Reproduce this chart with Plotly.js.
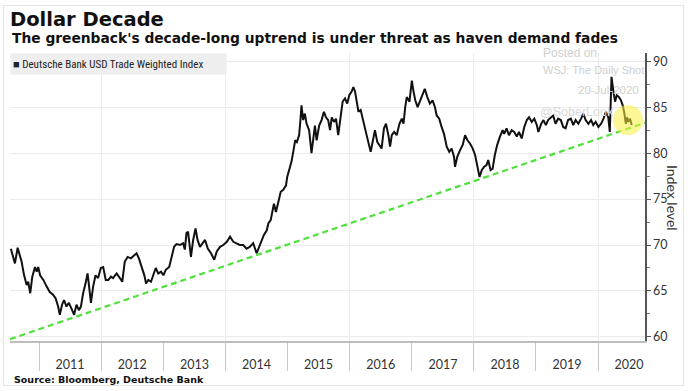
<!DOCTYPE html>
<html><head><meta charset="utf-8">
<script src="https://cdn.plot.ly/plotly-3.0.1.min.js"></script>
<style>
html,body{margin:0;padding:0;background:#fff}
#chart{width:693px;height:391px}
#frame{position:absolute;left:3px;top:5px;width:679px;height:379px;border:1px solid #e4e4e4;pointer-events:none}
</style>
</head><body><div id="chart"></div><div id="frame"></div>
<script>
const chartTitle = 'Dollar Decade';
const chartSubtitle = "The greenback's decade-long uptrend is under threat as haven demand fades";
const sourceText = 'Source: Bloomberg, Deutsche Bank';
const seriesName = 'Deutsche Bank USD Trade Weighted Index';
const yAxisTitle = 'Index level';
const watermark = ['Posted on', 'WSJ: The Daily Shot', '20-Jul-2020', '@SoberLook'];

const dates = [
'2010-07-19','2010-08-01','2010-08-12','2010-08-28','2010-09-10','2010-09-20','2010-10-05','2010-10-20','2010-10-29','2010-11-10','2010-11-22','2010-12-08','2010-12-18','2010-12-27',
'2011-01-07','2011-01-26','2011-02-14','2011-03-04','2011-03-24','2011-04-08','2011-04-23','2011-05-03','2011-05-16','2011-05-28','2011-06-11','2011-06-25','2011-07-10','2011-07-26','2011-08-09','2011-08-23','2011-09-04','2011-09-17','2011-10-01','2011-10-13','2011-10-21','2011-11-02','2011-11-15','2011-11-29','2011-12-14','2011-12-30',
'2012-01-13','2012-01-28','2012-02-12','2012-02-28','2012-03-11','2012-04-01','2012-04-20','2012-05-04','2012-05-19','2012-06-05','2012-06-24','2012-07-13','2012-07-27','2012-08-10','2012-08-26','2012-09-11','2012-09-21','2012-10-04','2012-10-20','2012-11-03','2012-11-17','2012-12-02','2012-12-18',
'2013-01-01','2013-01-15','2013-02-04','2013-02-19','2013-03-05','2013-03-19','2013-04-08','2013-04-27','2013-05-07','2013-05-17','2013-05-26','2013-06-12','2013-06-25','2013-07-09','2013-07-21','2013-08-04','2013-08-18','2013-09-03','2013-09-19','2013-10-08','2013-10-27','2013-11-11','2013-11-30','2013-12-19',
'2014-01-09','2014-01-28','2014-02-16','2014-03-07','2014-03-26','2014-04-15','2014-05-05','2014-05-24','2014-06-13','2014-07-03','2014-07-18','2014-08-02','2014-08-15','2014-09-01','2014-09-10','2014-09-24','2014-10-05','2014-10-13','2014-10-25','2014-11-08','2014-11-22','2014-12-07','2014-12-23','2014-12-30',
'2015-01-12','2015-01-24','2015-02-05','2015-02-15','2015-02-25','2015-03-10','2015-03-18','2015-03-24','2015-04-03','2015-04-13','2015-04-23','2015-05-08','2015-05-22','2015-06-01','2015-06-11','2015-06-21','2015-07-06','2015-07-20','2015-08-03','2015-08-15','2015-08-28','2015-09-08','2015-09-18','2015-10-01','2015-10-13','2015-10-26','2015-11-10','2015-11-21','2015-12-05','2015-12-18','2015-12-30',
'2016-01-13','2016-01-23','2016-02-02','2016-02-12','2016-02-22','2016-03-06','2016-03-17','2016-03-31','2016-04-10','2016-04-20','2016-05-04','2016-05-19','2016-05-29','2016-06-12','2016-06-28','2016-07-07','2016-07-21','2016-08-02','2016-08-16','2016-08-26','2016-09-05','2016-09-19','2016-10-04','2016-10-20','2016-11-03','2016-11-13','2016-11-23','2016-12-02','2016-12-18',
'2017-01-01','2017-01-11','2017-01-21','2017-02-04','2017-02-19','2017-03-05','2017-03-18','2017-04-02','2017-04-17','2017-05-03','2017-05-17','2017-05-27','2017-06-11','2017-06-25','2017-07-09','2017-07-25','2017-08-09','2017-08-23','2017-09-06','2017-09-12','2017-09-25','2017-10-11','2017-10-27','2017-11-10','2017-11-24','2017-12-09','2017-12-25',
'2018-01-08','2018-01-18','2018-02-03','2018-02-16','2018-03-01','2018-03-16','2018-03-26','2018-04-09','2018-04-21','2018-05-04','2018-05-18','2018-06-03','2018-06-19','2018-06-28','2018-07-12','2018-07-26','2018-08-11','2018-08-26','2018-09-10','2018-09-23','2018-10-09','2018-10-24','2018-11-08','2018-11-21','2018-12-07','2018-12-22',
'2019-01-06','2019-01-15','2019-02-01','2019-02-14','2019-02-28','2019-03-13','2019-03-29','2019-04-12','2019-04-26','2019-05-11','2019-05-27','2019-06-10','2019-06-24','2019-07-09','2019-07-25','2019-08-08','2019-08-22','2019-09-07','2019-09-23','2019-10-06','2019-10-20','2019-11-05','2019-11-21','2019-12-04','2019-12-18',
'2020-01-03','2020-01-19','2020-02-02','2020-02-16','2020-03-01','2020-03-10','2020-03-16','2020-03-18','2020-03-20','2020-04-02','2020-04-10','2020-04-20','2020-05-03','2020-05-15','2020-05-25','2020-06-04','2020-06-12','2020-06-19','2020-06-27','2020-07-07','2020-07-17'
];

const usdIndex = [
69.6,68.7,68.0,69.7,68.9,68.2,66.7,65.65,66.0,64.75,66.55,67.6,67.1,67.6,
66.7,66.2,65.5,64.9,64.6,64.2,63.3,62.4,63.5,64.0,63.3,63.7,63.1,62.4,63.5,62.9,63.3,64.75,65.8,66.9,65.65,63.7,65.5,66.7,66.4,67.5,
67.6,66.2,66.2,66.55,66.4,66.9,66.4,66.0,68.2,68.7,68.55,68.9,69.1,68.55,67.6,66.7,65.8,66.2,66.0,66.7,67.5,66.9,67.1,
66.7,67.3,67.6,68.7,69.8,70.1,70.0,70.2,69.5,71.3,71.45,68.7,70.55,71.8,70.55,69.8,70.2,70.55,69.6,69.1,68.4,69.3,69.8,70.0,
70.35,70.9,70.35,70.2,70.0,70.0,69.6,69.8,70.2,69.1,69.8,70.55,71.1,71.6,72.35,72.7,73.8,74.5,73.6,74.7,75.8,76.0,76.5,77.4,
78.15,79.05,80.3,81.4,81.2,81.95,83.6,85.2,83.6,84.3,83.2,82.5,80.0,81.8,83.0,81.4,83.0,83.6,84.5,83.9,83.6,82.5,83.9,83.4,83.75,81.95,84.3,85.6,85.95,85.4,86.3,
86.7,87.2,86.7,85.6,84.5,84.7,83.75,82.85,81.8,81.2,80.15,81.6,82.5,81.2,80.7,80.5,82.7,83.2,81.95,80.7,81.95,82.3,81.95,83.2,83.75,83.2,85.0,86.1,85.6,
87.9,86.7,85.75,85.0,85.75,86.5,87.0,86.1,85.4,85.75,85.0,84.1,83.75,82.85,82.1,80.7,80.15,80.5,79.6,78.5,79.6,80.3,80.9,81.95,81.4,81.05,80.5,
79.8,78.7,77.4,78.15,78.5,78.7,79.25,78.15,78.3,79.8,80.9,81.8,82.5,82.1,82.7,81.95,82.5,82.3,81.8,82.3,81.6,82.85,83.6,83.9,83.4,83.75,
83.05,82.3,83.2,83.6,83.05,83.6,83.9,84.1,83.2,83.75,83.6,82.85,82.7,83.6,83.75,83.05,83.6,83.2,83.75,84.3,83.6,83.2,83.6,83.05,83.4,
82.85,83.2,83.75,84.5,83.9,82.3,85.4,87.4,88.3,86.5,85.6,86.3,86.1,85.75,85.2,84.3,83.2,83.9,83.4,83.75,83.05
];

const trendDates = ['2010-07-14', '2020-10-03'];
const trendValues = [59.75, 83.3];

const highlightDate = '2020-06-25';
const highlightValue = 83.6;

const xRange = ['2010-07-14', '2020-10-03'];
const yRange = [59.55, 90.9];

const fontText = '"DejaVu Sans", Verdana, sans-serif';
const fontTick = 'Lato, "Open Sans", sans-serif';
const fontNarrow = '"Liberation Sans Narrow", "Arial Narrow", "Roboto Condensed", sans-serif';
const fontWm = '"Liberation Sans", Arial, sans-serif';

const traces = [
  {
    x: dates, y: usdIndex, type: 'scatter', mode: 'lines', name: seriesName,
    line: {color: '#111111', width: 2}, showlegend: false, xaxis: 'x', yaxis: 'y',
    hoverinfo: 'x+y'
  },
  {
    x: trendDates, y: trendValues, type: 'scatter', mode: 'lines', name: 'Trend',
    line: {color: '#4de13a', width: 2.2, dash: '6px,4px'}, showlegend: false,
    xaxis: 'x2', yaxis: 'y', hoverinfo: 'skip'
  }
];

const px = v => (v - 10) / 635;      // paper x from pixel x (plot spans 10..645)
const py = v => (341 - v) / 288;     // paper y from pixel y (plot spans 53..341)

const layout = {
  width: 693, height: 391,
  margin: {l: 10, r: 48, t: 53, b: 50, pad: 0},
  paper_bgcolor: '#ffffff', plot_bgcolor: '#ffffff',
  showlegend: false,
  title: {
    text: '<b>' + chartTitle + '</b>',
    font: {family: fontText, size: 19.5, color: '#111'},
    xref: 'container', x: 10 / 693, xanchor: 'left',
    yref: 'container', y: 1 - 19 / 391, yanchor: 'middle'
  },
  xaxis: {
    type: 'date', range: xRange, dtick: 'M12', tick0: '2011-01-01',
    ticklabelmode: 'period', tickformat: '%Y',
    ticks: 'outside', ticklen: 28, tickcolor: '#c8c8c8', tickwidth: 1,
    ticklabelstandoff: -17,
    showgrid: false, zeroline: false,
    showline: true, linecolor: '#bdbdbd', linewidth: 2,
    tickfont: {family: fontTick, size: 12.5, color: '#333'},
    fixedrange: true
  },
  xaxis2: {
    type: 'date', range: xRange, overlaying: 'x', anchor: 'y', side: 'bottom',
    dtick: 'M24', tick0: '2010-01-01',
    showgrid: true, gridcolor: '#ebebeb', gridwidth: 1,
    showticklabels: false, ticks: '', showline: false, zeroline: false
  },
  yaxis: {
    side: 'right', range: yRange, dtick: 5, tick0: 60,
    ticks: 'outside', ticklen: 4, tickcolor: '#555', tickwidth: 1,
    showline: true, linecolor: '#555', linewidth: 1.5,
    showgrid: true, gridcolor: '#ebebeb', gridwidth: 1, zeroline: false,
    tickfont: {family: fontTick, size: 12.5, color: '#333'},
    minor: {dtick: 2.5, ticks: 'outside', ticklen: 3, tickcolor: '#777', showgrid: false}
  },
  shapes: [
    {
      type: 'circle', xref: 'x', yref: 'y', xsizemode: 'pixel', ysizemode: 'pixel',
      xanchor: highlightDate, yanchor: highlightValue,
      x0: -15, x1: 15, y0: -15, y1: 15,
      fillcolor: 'rgba(250,238,60,0.55)', line: {width: 0}, layer: 'above'
    }
  ],
  annotations: [
    {text: '<b>' + chartSubtitle + '</b>', xref: 'paper', yref: 'paper', x: px(10), y: py(38),
     xanchor: 'left', yanchor: 'middle', showarrow: false,
     font: {family: fontText, size: 13.8, color: '#111'}},
    {text: '<b>' + sourceText + '</b>', xref: 'paper', yref: 'paper', x: px(12), y: py(379),
     xanchor: 'left', yanchor: 'middle', showarrow: false,
     font: {family: fontText, size: 9.5, color: '#111'}},
    {text: '■ ' + seriesName, xref: 'paper', yref: 'paper', x: 0, y: 1,
     xanchor: 'left', yanchor: 'top', showarrow: false, align: 'left',
     bgcolor: '#eeeeee', width: 211, height: 16, borderpad: 2,
     font: {family: fontNarrow, size: 11, color: '#222'}},
    {text: yAxisTitle, xref: 'paper', yref: 'paper', x: px(673), y: py(198),
     xanchor: 'center', yanchor: 'middle', showarrow: false, textangle: 90,
     font: {family: fontTick, size: 14, color: '#333'}},
    {text: watermark[0], xref: 'paper', yref: 'paper', x: px(541), y: py(53),
     xanchor: 'left', yanchor: 'middle', showarrow: false,
     font: {family: fontWm, size: 12, color: '#d0d0d0'}},
    {text: watermark[1], xref: 'paper', yref: 'paper', x: px(541), y: py(70),
     xanchor: 'left', yanchor: 'middle', showarrow: false,
     font: {family: fontWm, size: 11, color: '#cfcfcf'}},
    {text: watermark[2], xref: 'paper', yref: 'paper', x: px(641), y: py(90),
     xanchor: 'right', yanchor: 'middle', showarrow: false,
     font: {family: fontWm, size: 11.5, color: '#cfcfcf'}},
    {text: watermark[3], xref: 'paper', yref: 'paper', x: px(538), y: py(112),
     xanchor: 'left', yanchor: 'middle', showarrow: false,
     font: {family: fontWm, size: 12.5, color: '#d8d8d8'}}
  ]
};

Plotly.newPlot('chart', traces, layout, {displayModeBar: false, staticPlot: true});
</script></body></html>
